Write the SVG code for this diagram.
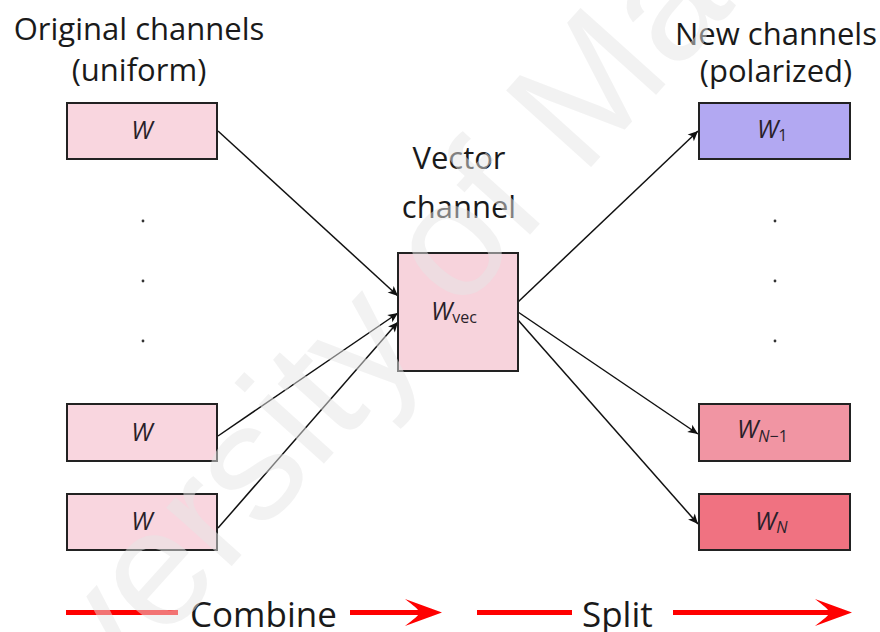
<svg xmlns="http://www.w3.org/2000/svg" width="880" height="632" viewBox="0 0 880 632">
  <style>
    .t { font-family: "Open Sans", "DejaVu Sans", sans-serif; fill: #1a1a1a; }
    .hd { font-size: 31px; }
    .big { font-size: 35px; }
    .box { stroke: #222; stroke-width: 2; }
    .m { font-family: "Open Sans", "DejaVu Sans", sans-serif; font-style: italic; font-size: 25px; fill: #2a1f2a; }
    .sub { font-style: normal; font-size: 16px; }
    .subi { font-style: italic; font-size: 16px; }
    .con { stroke: #111; stroke-width: 1.5; fill: none; marker-end: url(#ah); }
    .red { stroke: #ff0000; stroke-width: 5; fill: none; }
    .dot { fill: #333; }
  </style>
  <defs>
    <marker id="ah" markerUnits="userSpaceOnUse" markerWidth="14" markerHeight="12" viewBox="-12 -6 14 12" refX="0" refY="0" orient="auto">
      <path d="M0,0 L-10,-4.5 L-7.5,0 L-10,4.5 Z" fill="#111"/>
    </marker>
  </defs>
  <rect width="880" height="632" fill="#ffffff"/>

  <g id="title-left">
    <text class="t hd" x="139" y="40" text-anchor="middle">Original channels</text>
    <text class="t hd" x="139" y="81" text-anchor="middle">(uniform)</text>
  </g>
  <g id="title-right">
    <text class="t hd" x="776" y="45" text-anchor="middle">New channels</text>
    <text class="t hd" x="776" y="82" text-anchor="middle">(polarized)</text>
  </g>
  <g id="title-center">
    <text class="t hd" x="459" y="169" text-anchor="middle">Vector</text>
    <text class="t hd" x="459" y="218" text-anchor="middle">channel</text>
  </g>

  <g id="connectors">
    <line class="con" x1="218" y1="131" x2="398" y2="296"/>
    <line class="con" x1="218" y1="436" x2="398" y2="313"/>
    <line class="con" x1="218" y1="528" x2="398" y2="322"/>
    <line class="con" x1="518" y1="302" x2="698" y2="131"/>
    <line class="con" x1="518" y1="312" x2="698" y2="434"/>
    <line class="con" x1="518" y1="320" x2="698" y2="524"/>
  </g>

  <g id="w-top">
    <rect class="box" x="67" y="103" width="150" height="56" fill="#f9d6df"/>
    <text class="m" x="142" y="139" text-anchor="middle">W</text>
  </g>
  <g id="dots-left">
    <circle class="dot" cx="143" cy="221" r="1.4"/>
    <circle class="dot" cx="143" cy="281" r="1.4"/>
    <circle class="dot" cx="143" cy="341" r="1.4"/>
  </g>
  <g id="w-mid">
    <rect class="box" x="67" y="404" width="150" height="57" fill="#f9d6df"/>
    <text class="m" x="142" y="441" text-anchor="middle">W</text>
  </g>
  <g id="w-bot">
    <rect class="box" x="67" y="494" width="150" height="56" fill="#f9d6df"/>
    <text class="m" x="142" y="530" text-anchor="middle">W</text>
  </g>

  <g id="w-vec">
    <rect class="box" x="398" y="253" width="120" height="118" fill="#f7d3dc"/>
    <text class="m" x="431" y="320">W<tspan class="sub" dy="3" dx="0">vec</tspan></text>
  </g>

  <g id="w-1">
    <rect class="box" x="699" y="103" width="151" height="56" fill="#b2a8f2"/>
    <text class="m" x="757" y="138">W<tspan class="sub" dy="3" dx="0">1</tspan></text>
  </g>
  <g id="dots-right">
    <circle class="dot" cx="775" cy="221" r="1.4"/>
    <circle class="dot" cx="775" cy="281" r="1.4"/>
    <circle class="dot" cx="775" cy="341" r="1.4"/>
  </g>
  <g id="w-n1">
    <rect class="box" x="699" y="404" width="151" height="57" fill="#f195a3"/>
    <text class="m" x="737" y="438">W<tspan class="subi" dy="4" dx="0">N</tspan><tspan class="sub" dy="0">−1</tspan></text>
  </g>
  <g id="w-n">
    <rect class="box" x="699" y="494" width="151" height="56" fill="#f07281"/>
    <text class="m" x="755" y="530">W<tspan class="subi" dy="3" dx="0">N</tspan></text>
  </g>

  <g id="combine">
    <line class="red" x1="66" y1="612.5" x2="178" y2="612.5"/>
    <text class="t big" x="190" y="627">Combine</text>
    <line class="red" x1="350" y1="612.5" x2="425" y2="612.5"/>
    <path d="M442,612.5 L405,599 C414,606 418,609 420,612.5 C418,616 414,619 405,626 Z" fill="#ff0000"/>
  </g>
  <g id="split">
    <line class="red" x1="477" y1="612.5" x2="572" y2="612.5"/>
    <text class="t big" x="582" y="627">Split</text>
    <line class="red" x1="673" y1="612.5" x2="835" y2="612.5"/>
    <path d="M852,612.5 L815,599 C824,606 828,609 830,612.5 C828,616 824,619 815,626 Z" fill="#ff0000"/>
  </g>

  <g id="watermark" opacity="0.5">
    <text x="0" y="0" transform="translate(-60,890) rotate(-48)" font-family="Liberation Sans, Arial, sans-serif" font-size="166" fill="#e6e6e6">University of Malaya</text>
  </g>
</svg>
